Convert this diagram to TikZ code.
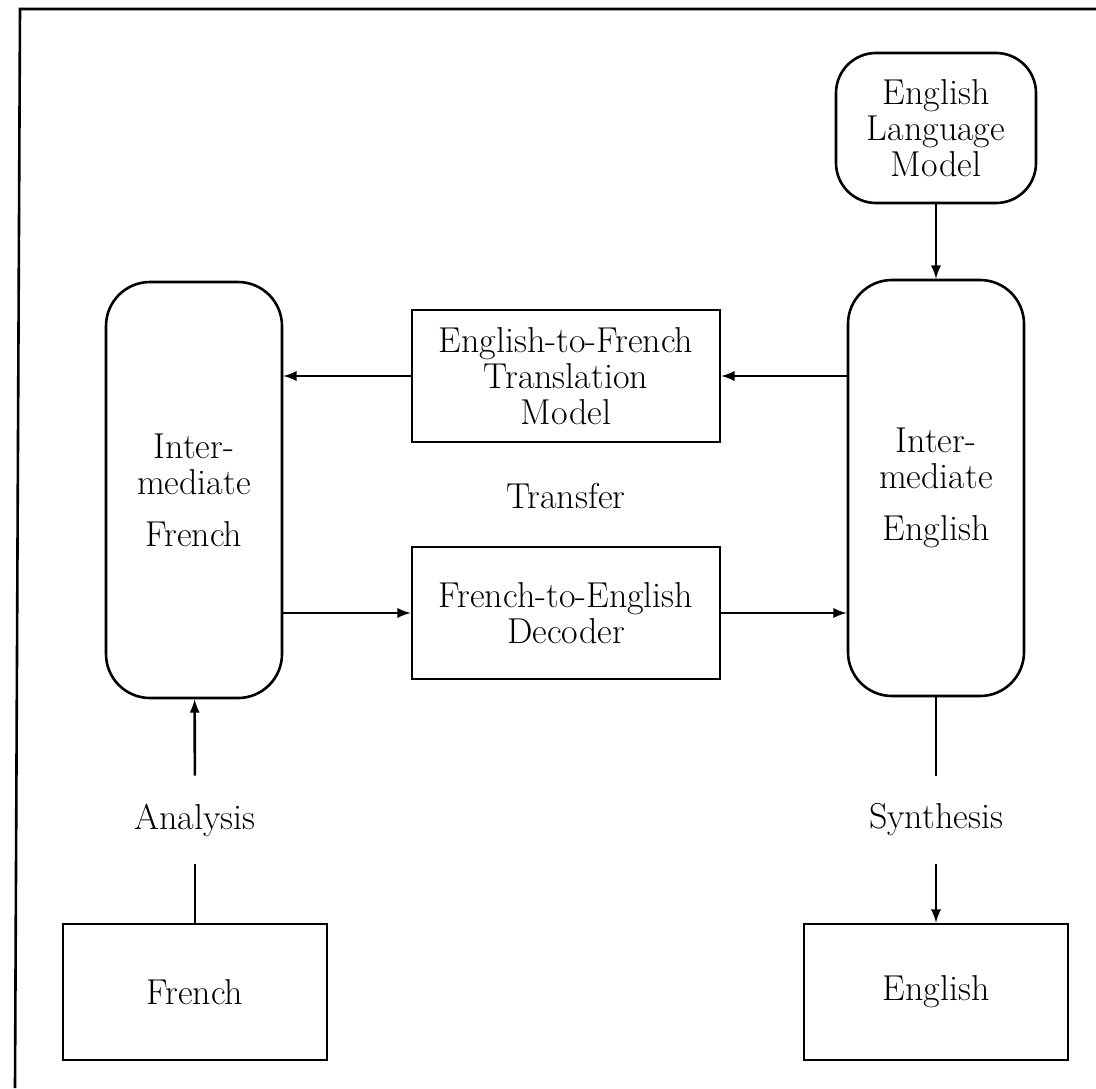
\documentclass[tikz,border=0pt]{standalone}
\usepackage{amsmath}
\usepackage{xcolor}
\usepackage{tikz}

\tikzset{
  stage/.style={draw, line width=1.3pt, rounded corners=22pt, align=center, minimum width=88pt, minimum height=208pt},
  model/.style={draw, line width=1.3pt, align=center, minimum width=154pt, minimum height=66pt},
  lang/.style={draw, line width=1.3pt, align=center, minimum width=132pt, minimum height=68pt},
  step label/.style={align=center, minimum height=44pt, inner sep=0pt}
}

\begin{document}
\begin{tikzpicture}[x=0.5pt, y=-0.5pt, >=latex, font=\fontsize{18}{18}\selectfont]
\useasboundingbox (0,0) rectangle (1096,1088);
\draw[line width=1.3pt] (1096,9) -- (20,9) -- (15,1088);
\node[stage, minimum width=100pt, minimum height=75pt, rounded corners=20pt] (lm) at (936,128) {English\\Language\\Model};
\node[stage] (ie) at (936,488) {Inter-\\mediate\\[8pt]English};
\node[stage] (if) at (194,490) {Inter-\\mediate\\[8pt]French};
\node[model] (ef) at (566,376) {English-to-French\\Translation\\Model};
\node[model] (fe) at (566,613) {French-to-English\\Decoder};
\node (transfer) at (566,496) {Transfer};
\node[step label] (analysis) at (195,820) {Analysis};
\node[step label] (synthesis) at (936,820) {Synthesis};
\node[lang] (fr) at (195,992) {French};
\node[lang] (en) at (936,992) {English};
\draw[line width=1.3pt, ->] (lm) -- (ie);
\draw[line width=1.3pt, ->] (ie.west |- ef.east) -- (ef.east);
\draw[line width=1.3pt, ->] (ef.west) -- (if.east |- ef.west);
\draw[line width=1.3pt, ->] (if.east |- fe.west) -- (fe.west);
\draw[line width=1.3pt, ->] (fe.east) -- (ie.west |- fe.east);
\draw[line width=1.3pt, ->] (analysis) -- (if);
\draw[line width=1.3pt] (fr) -- (analysis);
\draw[line width=1.3pt] (ie) -- (synthesis);
\draw[line width=1.3pt, ->] (synthesis) -- (en);
\end{tikzpicture}
\end{document}
